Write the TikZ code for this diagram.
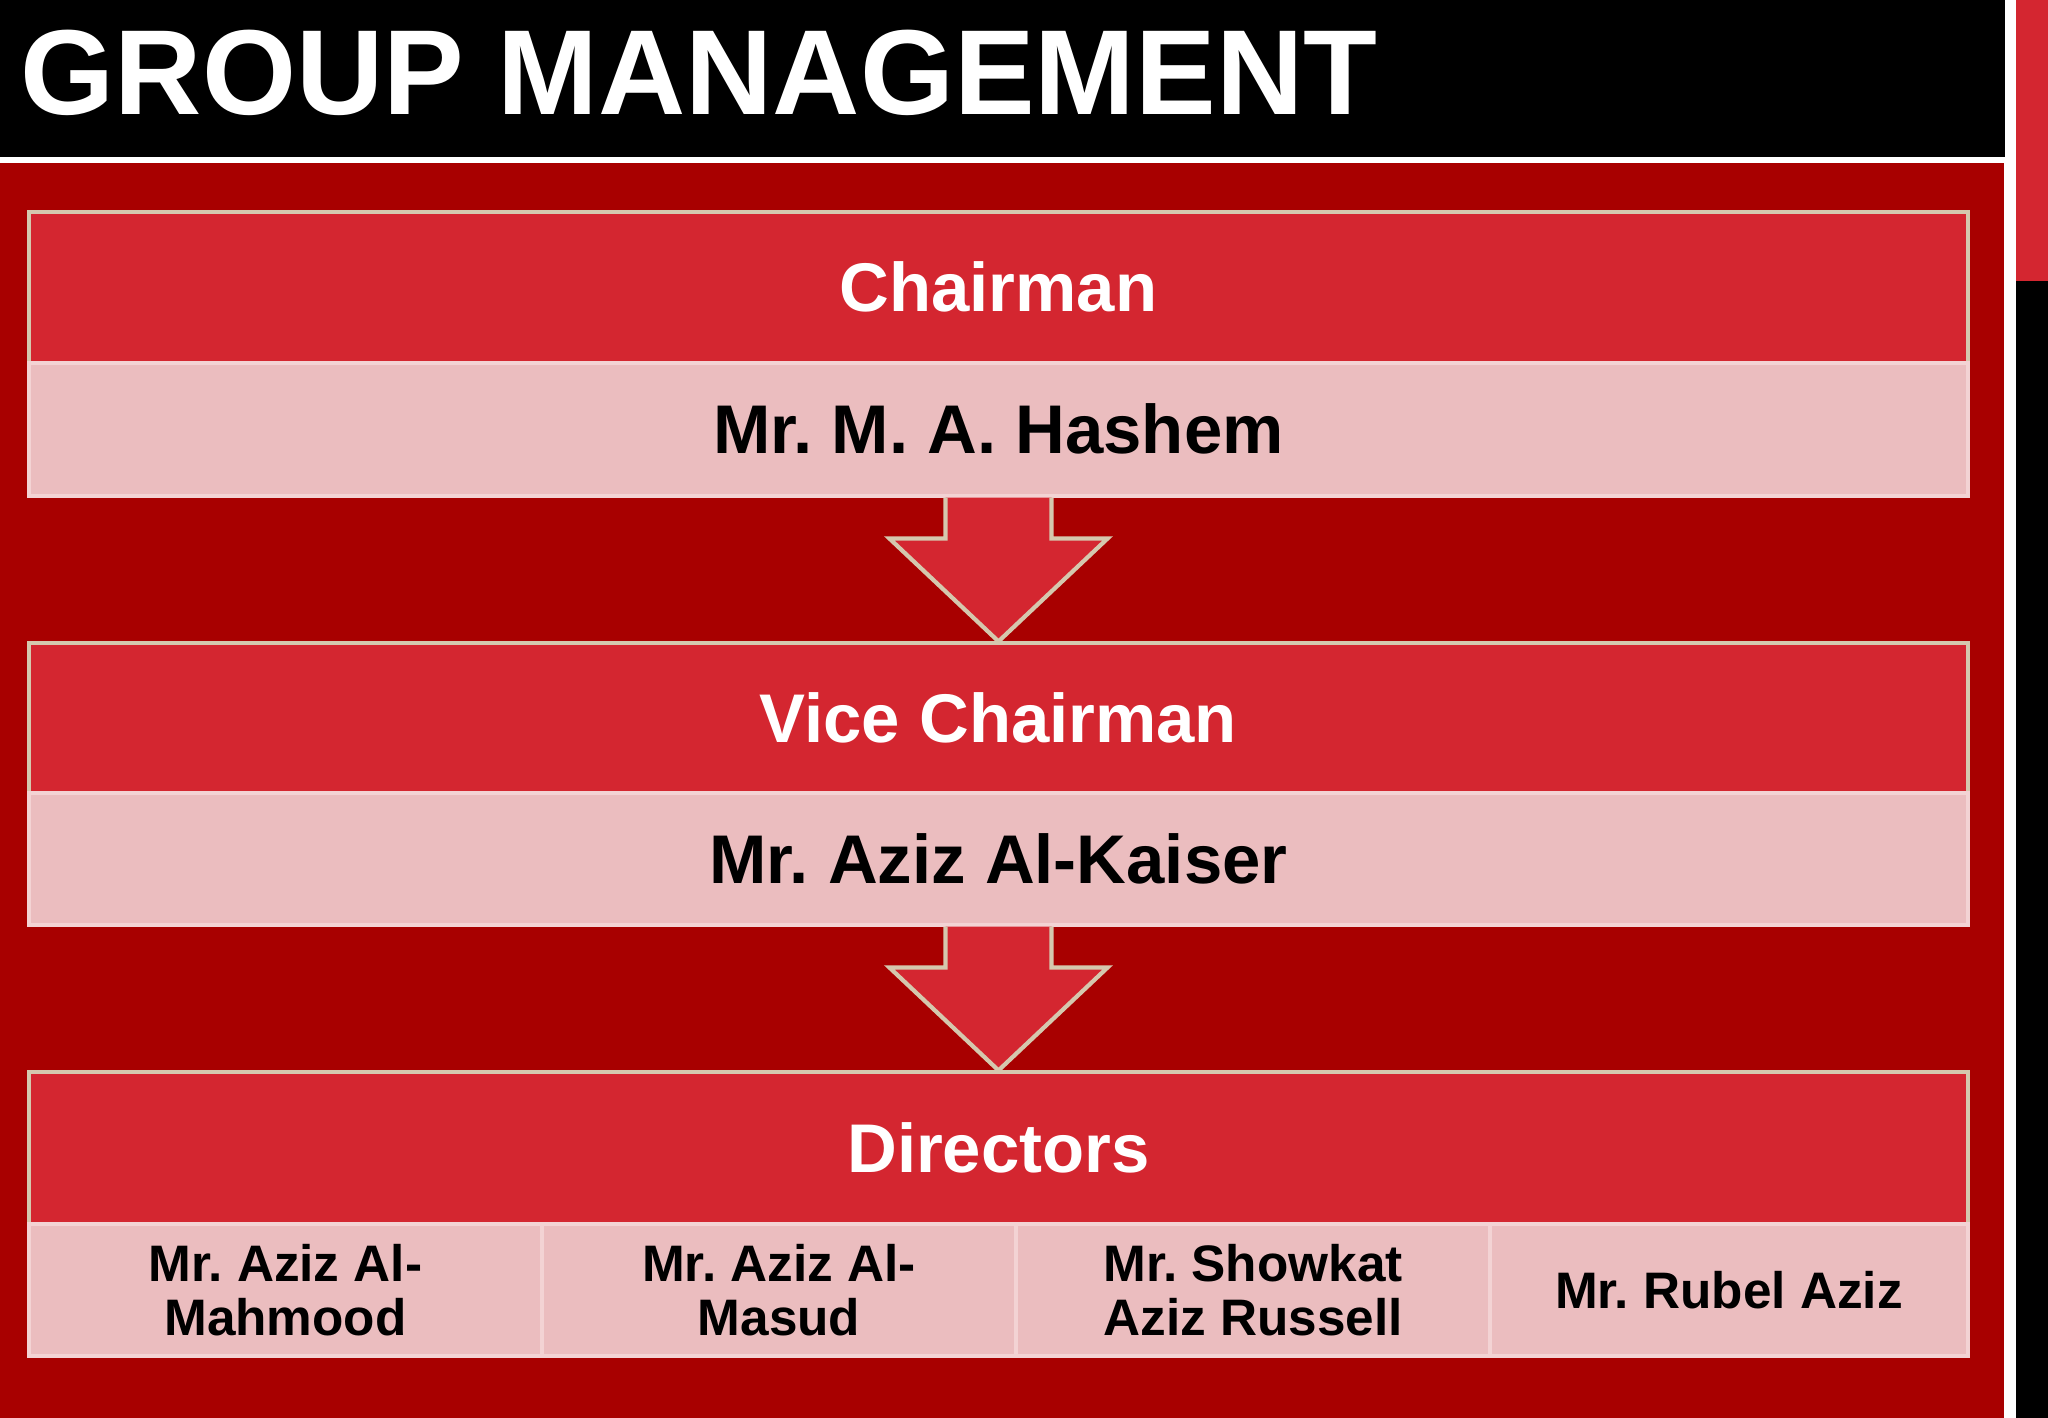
\documentclass[tikz,border=0pt]{standalone}
\usepackage{fontspec}
\setmainfont{Liberation Sans}
\usetikzlibrary{calc}
\frenchspacing

\definecolor{bodyred}{HTML}{A80000}
\definecolor{headred}{HTML}{D42630}
\definecolor{palepink}{HTML}{EBBDBF}
\definecolor{pinkline}{HTML}{F3D3D4}
\definecolor{beige}{HTML}{D5C8AE}

\tikzstyle{headbox}=[rectangle, fill=headred, draw=beige, line width=0.9pt, inner sep=0pt, minimum width=19.39cm, text=white, font=\bfseries\fontsize{19.6}{22}\selectfont, text height=0.49cm, text depth=0cm]
\tikzstyle{namebox}=[rectangle, fill=palepink, draw=pinkline, line width=0.9pt, inner sep=0pt, minimum width=19.39cm, minimum height=1.33cm, text=black, font=\bfseries\fontsize{19.6}{22}\selectfont, text height=0.49cm, text depth=0cm]
\tikzstyle{cellbox}=[rectangle, fill=palepink, draw=pinkline, line width=0.9pt, inner sep=0pt, minimum height=1.32cm, text=black, align=center, font=\bfseries\fontsize{14.6}{15.3}\selectfont]
\tikzstyle{blockarrow}=[fill=headred, draw=beige, line width=1.2pt, line join=miter]

\begin{document}
\begin{tikzpicture}
    % page and background
    \useasboundingbox (0,0) rectangle (20.48,-14.18);
    \fill[white] (0,0) rectangle (20.48,-14.18);
    \fill[black] (0,0) rectangle (20.05,-1.57);
    \fill[bodyred] (0,-1.63) rectangle (20.04,-14.18);
    \fill[headred] (20.16,0) rectangle (20.48,-2.81);
    \fill[black] (20.16,-2.81) rectangle (20.48,-14.18);

    \node (title) at (0.20,-1.15) [anchor=base west, inner sep=0pt, text=white, font=\bfseries\fontsize{34.4}{36}\selectfont] {GROUP MANAGEMENT};

    \node (chairhead) at (9.985,-2.875) [headbox, minimum height=1.51cm] {Chairman};
    \node (chairname) at (9.985,-4.295) [namebox] {Mr. M. A. Hashem};

    \node (vicehead) at (9.985,-7.18) [headbox, minimum height=1.50cm] {Vice Chairman};
    \node (vicename) at (9.985,-8.59) [namebox, minimum height=1.32cm] {Mr. Aziz Al-Kaiser};

    \node (dirhead) at (9.985,-11.48) [headbox, minimum height=1.52cm] {Directors};
    \node (dirA) at (2.855,-12.90) [cellbox, minimum width=5.13cm] {Mr. Aziz Al-\\Mahmood};
    \node (dirB) at (7.79,-12.90) [cellbox, minimum width=4.74cm] {Mr. Aziz Al-\\Masud};
    \node (dirC) at (12.53,-12.90) [cellbox, minimum width=4.74cm] {Mr. Showkat\\Aziz Russell};
    \node (dirD) at (17.29,-12.90) [cellbox, minimum width=4.78cm] {Mr. Rubel Aziz};

    % arrows between levels
    \filldraw[blockarrow] ($(chairname.south)+(-0.53,0)$) -- ++(0,-0.41) -- ++(-0.56,0)
        -- (vicehead.north) -- ($(chairname.south)+(1.09,-0.41)$) -- ++(-0.56,0) -- ++(0,0.41);
    \filldraw[blockarrow] ($(vicename.south)+(-0.53,0)$) -- ++(0,-0.41) -- ++(-0.56,0)
        -- (dirhead.north) -- ($(vicename.south)+(1.09,-0.41)$) -- ++(-0.56,0) -- ++(0,0.41);
\end{tikzpicture}
\end{document}
